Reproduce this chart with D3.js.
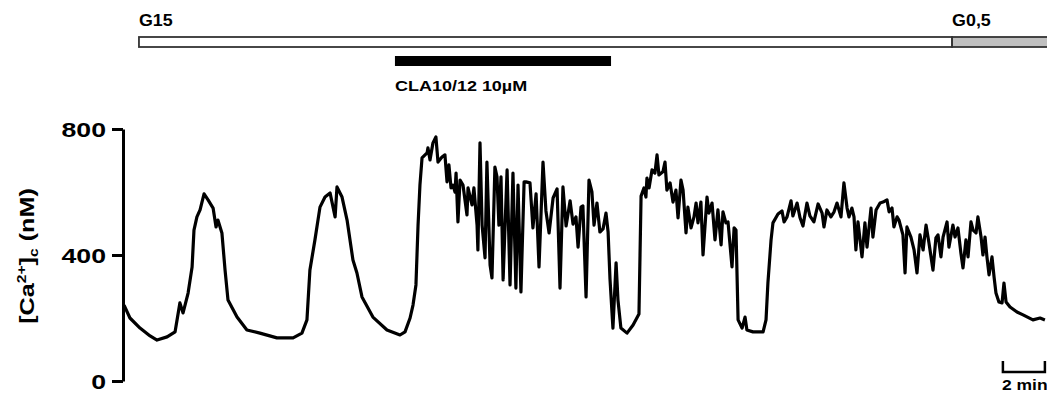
<!DOCTYPE html>
<html>
<head>
<meta charset="utf-8">
<script src="https://cdn.jsdelivr.net/npm/d3@7"></script>
<style>
  body { margin: 0; background: #fff; }
  svg { display: block; font-family: "Liberation Sans", Arial, sans-serif; font-weight: bold; }
</style>
</head>
<body>
<svg id="chart" width="1047" height="394"></svg>
<script>
// recording time (min) and cytosolic Ca2+ (nM)
const timeMin = [
  0.05, 0.33, 0.81, 1.29, 1.62, 2.10, 2.48, 2.71, 2.86, 3.10, 3.29, 3.38, 3.52, 3.67, 3.86, 4.05,
  4.29, 4.43, 4.52, 4.71, 4.86, 5.00, 5.43, 5.90, 6.52, 7.33, 8.10, 8.52, 8.76, 8.90, 9.14, 9.38,
  9.62, 9.86, 10.10, 10.19, 10.43, 10.67, 10.95, 11.14, 11.38, 11.90, 12.57, 13.19, 13.43, 13.67,
  13.81, 13.95, 14.05, 14.14, 14.24, 14.48, 14.52, 14.62, 14.76, 14.90, 15.00, 15.19, 15.33, 15.43,
  15.52, 15.62, 15.71, 15.81, 15.86, 15.95, 16.05, 16.19, 16.38, 16.43, 16.62, 16.71, 16.86, 16.90,
  17.00, 17.10, 17.24, 17.33, 17.48, 17.57, 17.71, 17.81, 17.90, 18.00, 18.10, 18.29, 18.43, 18.57,
  18.71, 18.81, 18.95, 19.10, 19.19, 19.38, 19.52, 19.67, 19.81, 20.00, 20.14, 20.29, 20.48, 20.67,
  20.81, 20.95, 21.10, 21.29, 21.43, 21.57, 21.67, 21.81, 21.90, 22.05, 22.19, 22.33, 22.43, 22.57,
  22.71, 22.86, 23.00, 23.10, 23.19, 23.33, 23.48, 23.57, 23.71, 24.00, 24.29, 24.57, 24.67, 24.81,
  24.90, 24.95, 25.05, 25.19, 25.33, 25.43, 25.52, 25.71, 25.81, 25.90, 26.05, 26.19, 26.33, 26.43,
  26.57, 26.67, 26.81, 26.90, 27.05, 27.19, 27.29, 27.38, 27.52, 27.62, 27.81, 27.90, 28.05, 28.19,
  28.33, 28.48, 28.57, 28.71, 28.81, 29.00, 29.10, 29.19, 29.29, 29.48, 29.62, 29.71, 30.00, 30.48,
  30.62, 30.71, 30.86, 30.95, 31.19, 31.38, 31.48, 31.62, 31.81, 31.90, 32.10, 32.24, 32.38, 32.57,
  32.71, 32.90, 33.10, 33.29, 33.38, 33.52, 33.71, 33.86, 34.00, 34.19, 34.33, 34.48, 34.57, 34.71,
  34.81, 34.90, 35.00, 35.19, 35.33, 35.43, 35.62, 35.71, 35.86, 36.05, 36.19, 36.38, 36.48, 36.62,
  36.71, 36.86, 36.95, 37.14, 37.24, 37.33, 37.52, 37.67, 37.81, 37.95, 38.10, 38.24, 38.38, 38.57,
  38.71, 38.81, 38.95, 39.05, 39.24, 39.33, 39.52, 39.62, 39.76, 39.90, 40.00, 40.14, 40.24, 40.38,
  40.48, 40.62, 40.71, 40.86, 40.95, 41.05, 41.14, 41.24, 41.38, 41.48, 41.57, 41.71, 41.86, 41.95,
  42.05, 42.24, 42.57, 42.86, 43.33, 43.67, 43.90
]
const caNM = [
  241, 200, 168, 143, 130, 140, 156, 248, 216, 279, 362, 479, 521, 543, 594, 575,
  549, 489, 511, 470, 352, 257, 203, 162, 152, 137, 137, 152, 194, 352, 448, 552,
  584, 597, 521, 616, 584, 511, 384, 343, 267, 203, 162, 146, 156, 200,
  241, 305, 495, 622, 708, 724, 740, 702, 756, 775, 695, 711, 718, 632,
  686, 613, 622, 600, 660, 505, 638, 622, 527, 613, 559, 613, 495, 416,
  756, 495, 391, 695, 368, 327, 679, 648, 495, 648, 321, 670, 305, 660,
  295, 622, 283, 632, 632, 629, 486, 594, 362, 695, 540, 470, 581, 610,
  295, 616, 492, 572, 498, 521, 425, 552, 556, 267, 638, 600, 495, 565,
  473, 483, 533, 473, 324, 168, 375, 257, 168, 152, 178, 213, 587, 613,
  584, 644, 613, 670, 660, 718, 654, 664, 695, 606, 629, 568, 606, 518,
  638, 606, 470, 552, 486, 521, 565, 502, 568, 400, 584, 533, 565, 448,
  543, 432, 537, 502, 505, 362, 486, 479, 194, 168, 203, 162, 156, 156,
  194, 311, 448, 502, 530, 540, 505, 521, 572, 524, 565, 518, 492, 565,
  524, 505, 562, 533, 489, 543, 521, 537, 565, 521, 629, 549, 521, 549,
  521, 416, 505, 394, 502, 425, 549, 457, 543, 565, 568, 575, 537, 549,
  489, 521, 511, 464, 343, 489, 457, 416, 343, 464, 416, 495, 438, 352,
  454, 464, 394, 457, 505, 425, 495, 457, 486, 406, 359, 448, 394, 505,
  479, 470, 521, 457, 400, 457, 394, 337, 394, 330, 279, 251, 248, 311,
  251, 235, 219, 210, 194, 200, 194
]

const yTicks = [0, 400, 800]

// perfusion protocol (start / end in min)
const glucoseLabels = ['G15', 'G0,5']
const glucoseStart = [0.76, 39.48]
const glucoseEnd = [39.48, 44.5]
const glucoseFill = ['#ffffff', '#c0c0c0']

const drugLabel = 'CLA10/12 10µM'
const drugStart = 12.95
const drugEnd = 23.24

const scaleBarMin = 2

// the original lettering is wider than Arial
const STRETCH = 1.2

const svg = d3.select('#chart')

const x = d3.scaleLinear().domain([0, 44]).range([123, 1047])
const y = d3.scaleLinear().domain([0, 800]).range([381, 129])

const data = timeMin.map((t, i) => ({ t, v: caNM[i] }))

// y axis
const yAxis = d3.axisLeft(y)
  .tickValues(yTicks)
  .tickSize(11)
  .tickPadding(5)
  .tickSizeOuter(0)

svg.append('g')
  .attr('transform', `translate(${x(0)},0)`)
  .call(yAxis)
  .call((g) => {
    g.select('.domain').attr('stroke', '#000').attr('stroke-width', 3)
    g.selectAll('.tick line').attr('stroke', '#000').attr('stroke-width', 3)
    g.selectAll('.tick text')
      .attr('fill', '#000')
      .style('font-size', '21px')
      .style('font-weight', 'bold')
      .attr('dy', '0.36em')
      .attr('x', 0)
      .attr('transform', 'translate(-17,0) scale(1.27,1)')
  })

// y label with super and subscript
const yl = svg.append('text')
  .attr('transform', `translate(34,256) rotate(-90) scale(${STRETCH},1)`)
  .attr('text-anchor', 'middle')
  .style('font-size', '21px')
yl.append('tspan').text('[Ca')
yl.append('tspan').text('2+').style('font-size', '13px').attr('dy', '-8')
yl.append('tspan').text(']').attr('dy', '8')
yl.append('tspan').text('c').style('font-size', '13px').attr('dy', '4')
yl.append('tspan').text(' (nM)').attr('dy', '-4')

// glucose bar
svg.selectAll('.gluc')
  .data(glucoseLabels)
  .join('rect')
  .attr('class', 'gluc')
  .attr('x', (d, i) => x(glucoseStart[i]))
  .attr('width', (d, i) => x(glucoseEnd[i]) - x(glucoseStart[i]))
  .attr('y', 37)
  .attr('height', 10)
  .attr('fill', (d, i) => glucoseFill[i])
  .attr('stroke', '#333')
  .attr('stroke-width', 1.8)

svg.selectAll('.gluc-label')
  .data(glucoseLabels)
  .join('text')
  .attr('class', 'gluc-label')
  .attr('transform', (d, i) => `translate(${x(glucoseStart[i])},26) scale(1.05,1)`)
  .style('font-size', '17px')
  .text((d) => d)

// drug bar
svg.append('rect')
  .attr('x', x(drugStart))
  .attr('width', x(drugEnd) - x(drugStart))
  .attr('y', 56)
  .attr('height', 10)
  .attr('fill', '#000')

svg.append('text')
  .attr('transform', `translate(${x(drugStart)},91) scale(${STRETCH},1)`)
  .style('font-size', '15px')
  .text(drugLabel)

// trace
const line = d3.line()
  .x((d) => x(d.t))
  .y((d) => y(d.v))

svg.append('path')
  .datum(data)
  .attr('d', line)
  .attr('fill', 'none')
  .attr('stroke', '#000')
  .attr('stroke-width', 3.2)
  .attr('stroke-linejoin', 'round')

// time scale bar
const sbX = x(41.9)
const sbW = x(scaleBarMin) - x(0)
svg.append('path')
  .attr('d', `M${sbX},361V372H${sbX + sbW}V361`)
  .attr('fill', 'none')
  .attr('stroke', '#000')
  .attr('stroke-width', 2.5)

svg.append('text')
  .attr('transform', `translate(${sbX - 1},390) scale(1.25,1)`)
  .style('font-size', '14px')
  .text(`${scaleBarMin} min`)
</script>
</body>
</html>
